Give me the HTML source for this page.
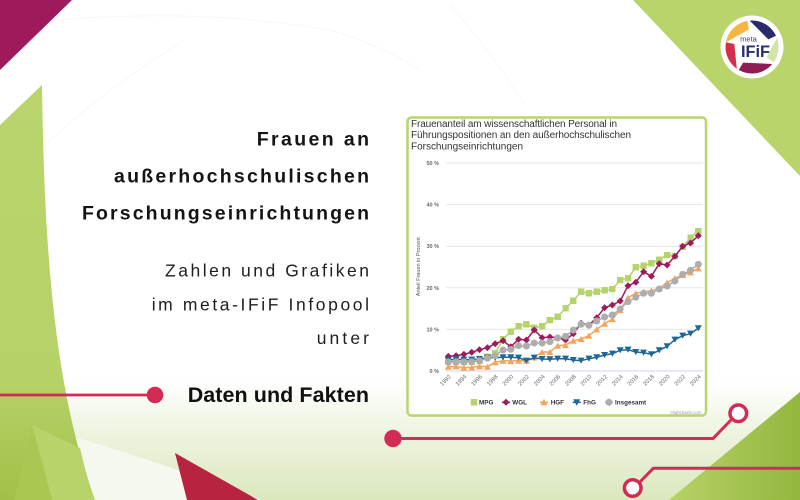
<!DOCTYPE html>
<html><head><meta charset="utf-8"><style>
html,body{margin:0;padding:0;background:#fff;}
svg{display:block;}
text{font-family:"Liberation Sans",sans-serif;}
</style></head><body>
<svg width="800" height="500" viewBox="0 0 800 500" xmlns="http://www.w3.org/2000/svg">
<defs>
<linearGradient id="bg" x1="0" y1="0" x2="0" y2="1">
<stop offset="0" stop-color="#ffffff"/><stop offset="0.35" stop-color="#f1f6e6"/><stop offset="1" stop-color="#dbe8bd"/>
</linearGradient>
<linearGradient id="lg" x1="0" y1="0" x2="0" y2="1">
<stop offset="0" stop-color="#bad56d"/><stop offset="0.72" stop-color="#b5d167"/><stop offset="1" stop-color="#a2c049"/>
</linearGradient>
<linearGradient id="rg" x1="0" y1="0" x2="1" y2="0">
<stop offset="0" stop-color="#b7d267"/><stop offset="1" stop-color="#93b73f"/>
</linearGradient>
<marker id="ms" viewBox="0 0 8 8" markerWidth="6.5" markerHeight="6.5" refX="4" refY="4" markerUnits="userSpaceOnUse"><rect width="8" height="8" fill="#b5d36b"/></marker>
<marker id="md" viewBox="0 0 8 8" markerWidth="7" markerHeight="7" refX="4" refY="4" markerUnits="userSpaceOnUse"><path d="M4,0 L8,4 L4,8 L0,4Z" fill="#9d1b5b"/></marker>
<marker id="mt" viewBox="0 0 8 8" markerWidth="7" markerHeight="7" refX="4" refY="4" markerUnits="userSpaceOnUse"><path d="M4,0.5 L8,7.5 L0,7.5Z" fill="#f7a35c"/></marker>
<marker id="mv" viewBox="0 0 8 8" markerWidth="7" markerHeight="7" refX="4" refY="4" markerUnits="userSpaceOnUse"><path d="M0,0.5 L8,0.5 L4,7.5Z" fill="#1f6698"/></marker>
<marker id="mc" viewBox="0 0 8 8" markerWidth="7" markerHeight="7" refX="4" refY="4" markerUnits="userSpaceOnUse"><circle cx="4" cy="4" r="4" fill="#adadad"/></marker>
</defs>

<!-- background -->
<rect width="800" height="500" fill="#fff"/>
<rect x="0" y="380" width="800" height="120" fill="url(#bg)"/>
<path d="M33,425 Q150,458 262,500 L0,500 Z" fill="#f5f8ee"/>
<path d="M60,20 Q200,8 330,30 Q380,45 420,70" fill="none" stroke="#f7f7f7" stroke-width="1"/>
<path d="M45,145 Q110,85 185,40" fill="none" stroke="#f7f7f7" stroke-width="1"/>
<path d="M450,5 Q490,50 525,105" fill="none" stroke="#f8f8f8" stroke-width="1"/>

<!-- left green shape -->
<path d="M0,125 L42,85 C44,220 50,380 95,500 L0,500 Z" fill="url(#lg)"/>
<path d="M32,425 L80,448 C84,466 89,484 95,500 L52,500 Z" fill="#b8d36a"/>
<path d="M32,425 L52,500 L14,500 Z" fill="#a9c753"/>

<!-- bottom right green -->
<path d="M800,392 L800,500 L669,500 Z" fill="url(#rg)"/>

<!-- corner triangles -->
<path d="M0,0 L72,0 L0,70 Z" fill="#9f1a5b"/>
<path d="M633,0 L800,0 L800,176 Z" fill="#b8d46b"/>
<path d="M175,453 L258,500 L187,500 Z" fill="#b8233f"/>

<!-- red circuit lines -->
<g stroke="#d42a56" fill="none">
<line x1="0" y1="395" x2="155" y2="395" stroke-width="2.7"/>
<polyline points="393,438.5 713,438.5 731,420" stroke-width="3"/>
<polyline points="800,468.3 653.3,468.3 638,484" stroke-width="3"/>
<circle cx="738.3" cy="413.3" r="8.3" stroke-width="3.5" fill="#fff"/>
<circle cx="632.7" cy="488" r="8.3" stroke-width="3.5" fill="#fff"/>
</g>
<circle cx="155" cy="395" r="8.3" fill="#d42a56"/>
<circle cx="393" cy="438.5" r="8.7" fill="#d42a56"/>

<!-- left text -->
<g fill="#141414" font-weight="bold" font-size="19.5">
<text x="256.7" y="145.7" textLength="112.3" lengthAdjust="spacing">Frauen an</text>
<text x="114" y="182.5" textLength="255" lengthAdjust="spacing">außerhochschulischen</text>
<text x="82" y="219.3" textLength="287" lengthAdjust="spacing">Forschungseinrichtungen</text>
</g>
<g fill="#1e1e1e" font-size="17.5">
<text x="165" y="276.7" textLength="204" lengthAdjust="spacing">Zahlen und Grafiken</text>
<text x="151.7" y="310.5" textLength="217.3" lengthAdjust="spacing">im meta-IFiF Infopool</text>
<text x="316.7" y="343.8" textLength="52.3" lengthAdjust="spacing">unter</text>
</g>
<text x="187.7" y="402.2" textLength="181.3" lengthAdjust="spacing" font-size="21.5" font-weight="bold" fill="#111">Daten und Fakten</text>

<!-- chart box -->
<rect x="407.5" y="117.5" width="298.5" height="298" rx="4" fill="#fff" stroke="#b8d46b" stroke-width="2.5"/>
<g fill="#333" font-size="10">
<text x="411" y="126.8" textLength="206" lengthAdjust="spacing">Frauenanteil am wissenschaftlichen Personal in</text>
<text x="411" y="138" textLength="220" lengthAdjust="spacing">Führungspositionen an den außerhochschulischen</text>
<text x="411" y="149.3" textLength="112" lengthAdjust="spacing">Forschungseinrichtungen</text>
</g>
<!-- grid -->
<g stroke="#e6e6e6" stroke-width="1">
<line x1="446" y1="163" x2="703" y2="163"/>
<line x1="446" y1="204.6" x2="703" y2="204.6"/>
<line x1="446" y1="246.2" x2="703" y2="246.2"/>
<line x1="446" y1="287.8" x2="703" y2="287.8"/>
<line x1="446" y1="329.4" x2="703" y2="329.4"/>
</g>
<line x1="446" y1="371" x2="703" y2="371" stroke="#ccd6eb" stroke-width="1"/>
<g fill="#666" font-size="5.5" font-weight="bold" text-anchor="end">
<text x="439" y="165">50 %</text>
<text x="439" y="206.6">40 %</text>
<text x="439" y="248.2">30 %</text>
<text x="439" y="289.8">20 %</text>
<text x="439" y="331.4">10 %</text>
<text x="439" y="373">0 %</text>
</g>
<text transform="translate(420,266.7) rotate(-90)" text-anchor="middle" font-size="5.5" fill="#555">Anteil Frauen in Prozent</text>
<g fill="#666" font-size="5.8" text-anchor="end">
<text transform="translate(451.3,377) rotate(-45)">1992</text>
<text transform="translate(466.9,377) rotate(-45)">1994</text>
<text transform="translate(482.5,377) rotate(-45)">1996</text>
<text transform="translate(498.2,377) rotate(-45)">1998</text>
<text transform="translate(513.8,377) rotate(-45)">2000</text>
<text transform="translate(529.4,377) rotate(-45)">2002</text>
<text transform="translate(545.1,377) rotate(-45)">2004</text>
<text transform="translate(560.7,377) rotate(-45)">2006</text>
<text transform="translate(576.3,377) rotate(-45)">2008</text>
<text transform="translate(591.9,377) rotate(-45)">2010</text>
<text transform="translate(607.6,377) rotate(-45)">2012</text>
<text transform="translate(623.2,377) rotate(-45)">2014</text>
<text transform="translate(638.8,377) rotate(-45)">2016</text>
<text transform="translate(654.4,377) rotate(-45)">2018</text>
<text transform="translate(670.1,377) rotate(-45)">2020</text>
<text transform="translate(685.7,377) rotate(-45)">2022</text>
<text transform="translate(701.3,377) rotate(-45)">2024</text>
</g>

<!-- series -->
<g fill="none" stroke-width="1.5" stroke-linejoin="round">
<polyline stroke="#b5d36b" marker-start="url(#ms)" marker-mid="url(#ms)" marker-end="url(#ms)" points="448.3,361.7 456.1,361.7 463.9,362 471.7,361.7 479.5,361 487.4,356.7 495.2,353.3 503,339 510.8,331.7 518.6,326 526.4,324.3 534.2,327.7 542.1,326.3 549.9,320 557.7,316.7 565.5,308.3 573.3,300.7 581.1,291.7 588.9,293.3 596.7,291.7 604.6,290.3 612.4,289 620.2,280 628,278.3 635.8,267.3 643.6,265.7 651.4,263.3 659.2,259.7 667.1,255 674.9,256 682.7,246.7 690.5,237.7 698.3,231"/>
<polyline stroke="#9d1b5b" marker-start="url(#md)" marker-mid="url(#md)" marker-end="url(#md)" points="448.3,356.3 456.1,355.7 463.9,354.3 471.7,352.3 479.5,349.7 487.4,347.7 495.2,343.7 503,340.7 510.8,346.7 518.6,339.3 526.4,340 534.2,330 542.1,337.7 549.9,337 557.7,337.7 565.5,340 573.3,333.7 581.1,323.3 588.9,325 596.7,317.7 604.6,307.7 612.4,305 620.2,301 628,285.7 635.8,282.3 643.6,271.7 651.4,276.3 659.2,263.7 667.1,265 674.9,256.3 682.7,246.3 690.5,243 698.3,235.7"/>
<polyline stroke="#f7a35c" marker-start="url(#mt)" marker-mid="url(#mt)" marker-end="url(#mt)" points="448.3,366.7 456.1,366.3 463.9,367.7 471.7,367.3 479.5,366.3 487.4,366.7 495.2,362.3 503,360.7 510.8,361 518.6,360.7 526.4,360.7 534.2,357.3 542.1,352 549.9,352 557.7,345.7 565.5,345 573.3,340.7 581.1,339 588.9,335.7 596.7,329.3 604.6,323.7 612.4,319 620.2,310 628,297.7 635.8,293.3 643.6,291.7 651.4,290.7 659.2,288.3 667.1,282.7 674.9,278.3 682.7,275 690.5,272.3 698.3,268.3"/>
<polyline stroke="#1f6698" marker-start="url(#mv)" marker-mid="url(#mv)" marker-end="url(#mv)" points="448.3,360 456.1,359.3 463.9,359.7 471.7,359.7 479.5,359 487.4,357.7 495.2,357.7 503,357.3 510.8,357.3 518.6,357.7 526.4,360.7 534.2,357.7 542.1,359 549.9,359.3 557.7,358.7 565.5,358.7 573.3,360 581.1,360.7 588.9,358.7 596.7,357.3 604.6,355 612.4,353.7 620.2,350.3 628,349.7 635.8,352 643.6,352.7 651.4,354.3 659.2,350.3 667.1,346.3 674.9,339.7 682.7,335.7 690.5,333.7 698.3,328.3"/>
<polyline stroke="#adadad" marker-start="url(#mc)" marker-mid="url(#mc)" marker-end="url(#mc)" points="448.3,362 456.1,361.7 463.9,362 471.7,361.7 479.5,360.7 487.4,358.3 495.2,355.7 503,350 510.8,349.3 518.6,345.7 526.4,346 534.2,343 542.1,343 549.9,341.7 557.7,338 565.5,336.3 573.3,330 581.1,324.3 588.9,325.3 596.7,321 604.6,317 612.4,315 620.2,309 628,301.7 635.8,297.3 643.6,293.3 651.4,293.3 659.2,289 667.1,286 674.9,281 682.7,274.3 690.5,270.3 698.3,264.3"/>
</g>

<!-- legend -->
<g stroke-width="1.5">
<rect x="470.8" y="399" width="6.5" height="6.5" fill="#b5d36b"/>
<line x1="502" y1="402.3" x2="510" y2="402.3" stroke="#9d1b5b"/>
<path d="M506,398.8 L509.5,402.3 L506,405.8 L502.5,402.3Z" fill="#9d1b5b"/>
<line x1="540" y1="402.3" x2="548" y2="402.3" stroke="#f7a35c"/>
<path d="M544,398.8 L547.5,405.3 L540.5,405.3Z" fill="#f7a35c"/>
<line x1="572.7" y1="402.3" x2="580.7" y2="402.3" stroke="#1f6698"/>
<path d="M573.2,399.3 L580.2,399.3 L576.7,405.8Z" fill="#1f6698"/>
<line x1="605" y1="402.3" x2="613" y2="402.3" stroke="#adadad"/>
<circle cx="609" cy="402.3" r="3.5" fill="#adadad"/>
</g>
<g fill="#333" font-size="6.3" font-weight="bold">
<text x="479" y="404.5">MPG</text>
<text x="512.3" y="404.5">WGL</text>
<text x="550.7" y="404.5">HGF</text>
<text x="583.3" y="404.5">FhG</text>
<text x="615" y="404.5">Insgesamt</text>
</g>
<text x="701.7" y="414" text-anchor="end" font-size="4.5" fill="#999">Highcharts.com</text>

<!-- logo -->
<circle cx="752" cy="47" r="31.5" fill="#fff"/>
<path d="M725.9,42.4 A26.5,26.5 0 0 1 747.4,20.9 L748.9,29.3 Z" fill="#f4b63f"/>
<path d="M749.7,20.6 A26.5,26.5 0 0 1 776.0,35.8 L768.3,39.4 Z" fill="#2a2b6b"/>
<path d="M776.9,37.9 A26.5,26.5 0 0 1 773.7,62.2 L766.7,57.3 Z" fill="#d3e4a8"/>
<path d="M772.3,64.0 A26.5,26.5 0 0 1 738.8,70.0 L743.0,62.6 Z" fill="#8e1d56"/>
<path d="M736.8,68.7 A26.5,26.5 0 0 1 725.9,42.4 L734.3,43.9 Z" fill="#d3304f"/>
<text x="748.5" y="41.5" text-anchor="middle" font-size="7.5" fill="#3d3573">meta</text>
<text x="741" y="57" textLength="29" lengthAdjust="spacingAndGlyphs" font-size="17" font-weight="bold" fill="#2b2d6e">IFiF</text>
</svg>
</body></html>
